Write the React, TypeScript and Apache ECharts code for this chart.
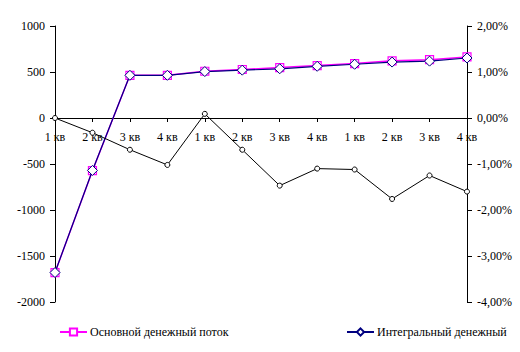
import React, { useEffect, useRef } from "react";
import * as echarts from "echarts";

const categories = ["1 кв", "2 кв", "3 кв", "4 кв", "1 кв", "2 кв", "3 кв", "4 кв", "1 кв", "2 кв", "3 кв", "4 кв"];
const mainFlow = [-1680, -573, 464, 464, 508, 527, 548, 570, 592, 622, 634, 664];
const integralFlow = [-1680, -570, 464, 464, 505, 520, 535, 562, 584, 608, 618, 652];
const ratioPct = [0, -0.32, -0.69, -1.02, 0.09, -0.69, -1.47, -1.1, -1.12, -1.76, -1.25, -1.6];
const leftTicks = { min: -2000, max: 1000, interval: 500 };
const rightTicks = { min: -4, max: 2, interval: 1 };

const FONT = "Times New Roman";

export default function App() {
  const ref = useRef<HTMLDivElement>(null);
  useEffect(() => {
    if (!ref.current) return;
    const chart = echarts.init(ref.current, null, { renderer: "svg" });
    const txt = { color: "#000", fontFamily: FONT, fontSize: 12 };
    chart.setOption({
      animation: false,
      backgroundColor: "#fff",
      textStyle: txt,
      grid: { left: 55, right: 53, top: 26, bottom: 50, containLabel: false },
      legend: [
        {
          left: 59,
          top: 326,
          padding: 0,
          itemWidth: 27,
          itemHeight: 9,
          itemGap: 0,
          textStyle: { ...txt, padding: [0, 0, 0, -2] },
          data: ["Основной денежный поток"],
        },
        {
          left: 346,
          top: 326,
          padding: 0,
          itemWidth: 27,
          itemHeight: 9,
          itemGap: 0,
          textStyle: { ...txt, padding: [0, 0, 0, -2] },
          data: ["Интегральный денежный"],
        },
      ],
      xAxis: {
        type: "category",
        data: categories,
        boundaryGap: false,
        offset: -184,
        axisLine: { onZero: false, lineStyle: { color: "#000", width: 1 } },
        axisTick: { show: true, inside: false, length: 4, lineStyle: { color: "#000" } },
        axisLabel: { ...txt, margin: 13, interval: 0 },
        splitLine: { show: false },
      },
      yAxis: [
        {
          type: "value",
          ...leftTicks,
          position: "left",
          axisLine: { show: true, lineStyle: { color: "#000", width: 1 } },
          axisTick: { show: true, length: 5, lineStyle: { color: "#000" } },
          axisLabel: { ...txt, margin: 10, formatter: (v: number) => String(v) },
          splitLine: { show: false },
        },
        {
          type: "value",
          ...rightTicks,
          position: "right",
          axisLine: { show: true, lineStyle: { color: "#000", width: 1 } },
          axisTick: { show: true, length: 5, lineStyle: { color: "#000" } },
          axisLabel: {
            ...txt,
            margin: 10,
            formatter: (v: number) => v.toFixed(2).replace(".", ",") + "%",
          },
          splitLine: { show: false },
        },
      ],
      series: [
        {
          name: "Основной денежный поток",
          type: "line",
          data: mainFlow,
          yAxisIndex: 0,
          symbol: "rect",
          symbolSize: 8,
          lineStyle: { color: "#FF00FF", width: 1.5 },
          itemStyle: { color: "#fff", borderColor: "#FF00FF", borderWidth: 1.2 },
          z: 2,
        },
        {
          name: "Интегральный денежный",
          type: "line",
          data: integralFlow,
          yAxisIndex: 0,
          symbol: "diamond",
          symbolSize: 10,
          lineStyle: { color: "#000080", width: 1.2 },
          itemStyle: { color: "#fff", borderColor: "#000080", borderWidth: 1 },
          z: 3,
        },
        {
          name: "Доля",
          type: "line",
          data: ratioPct,
          yAxisIndex: 1,
          symbol: "circle",
          symbolSize: 5,
          lineStyle: { color: "#000", width: 1 },
          itemStyle: { color: "#fff", borderColor: "#000", borderWidth: 1 },
          z: 4,
        },
      ],
    });
    return () => chart.dispose();
  }, []);
  return <div ref={ref} style={{ width: 520, height: 352, position: "absolute", left: 0, top: 0 }} />;
}
